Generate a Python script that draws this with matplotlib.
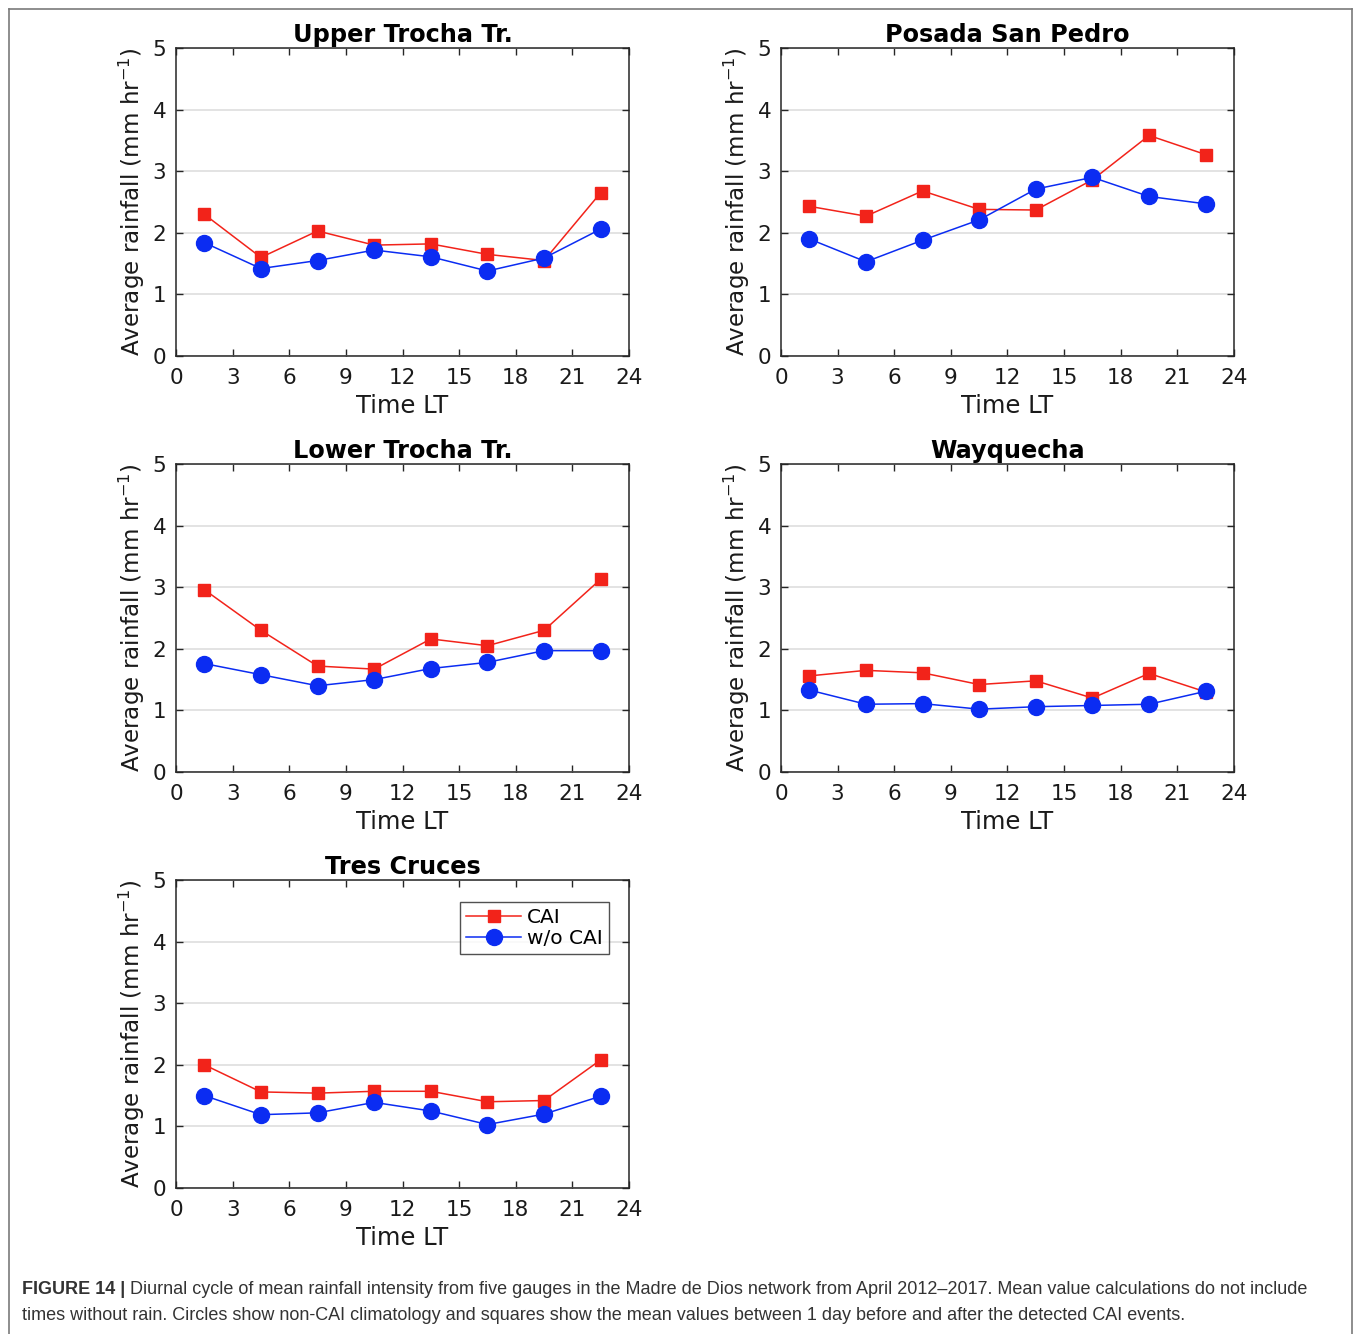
import numpy as np
import matplotlib
matplotlib.use("Agg")
import matplotlib.pyplot as plt
from matplotlib.lines import Line2D

# -----------------------------------------------------------------------------
# Data
# -----------------------------------------------------------------------------
hours = [1.5, 4.5, 7.5, 10.5, 13.5, 16.5, 19.5, 22.5]

stations = ["Upper Trocha Tr.", "Posada San Pedro", "Lower Trocha Tr.",
            "Wayquecha", "Tres Cruces"]

cai_upper = [2.30, 1.60, 2.03, 1.80, 1.82, 1.65, 1.55, 2.65]
nocai_upper = [1.84, 1.42, 1.55, 1.72, 1.61, 1.38, 1.59, 2.06]

cai_posada = [2.43, 2.27, 2.68, 2.38, 2.37, 2.86, 3.58, 3.27]
nocai_posada = [1.90, 1.53, 1.88, 2.21, 2.71, 2.90, 2.59, 2.47]

cai_lower = [2.96, 2.30, 1.72, 1.67, 2.16, 2.05, 2.30, 3.13]
nocai_lower = [1.76, 1.58, 1.40, 1.50, 1.68, 1.78, 1.97, 1.97]

cai_wayq = [1.56, 1.65, 1.61, 1.42, 1.48, 1.20, 1.60, 1.30]
nocai_wayq = [1.33, 1.10, 1.11, 1.02, 1.06, 1.08, 1.10, 1.31]

cai_tres = [2.00, 1.56, 1.54, 1.57, 1.57, 1.40, 1.42, 2.08]
nocai_tres = [1.50, 1.19, 1.22, 1.39, 1.25, 1.03, 1.20, 1.49]

cai_series = [cai_upper, cai_posada, cai_lower, cai_wayq, cai_tres]
nocai_series = [nocai_upper, nocai_posada, nocai_lower, nocai_wayq, nocai_tres]

xticks = [0, 3, 6, 9, 12, 15, 18, 21, 24]
yticks = [0, 1, 2, 3, 4, 5]

RED = "#f2231a"
BLUE = "#0b2cf2"
AXCOL = "#262626"

# -----------------------------------------------------------------------------
# Layout
# -----------------------------------------------------------------------------
W, H = 1358, 1334
fig = plt.figure(figsize=(W / 100, H / 100), dpi=100)

ax_w = 453 / W
ax_h = 308 / H
lefts = [176 / W, 781 / W]
bottoms = [(H - 356) / H, (H - 772) / H, (H - 1188) / H]

positions = [
    (lefts[0], bottoms[0]), (lefts[1], bottoms[0]),
    (lefts[0], bottoms[1]), (lefts[1], bottoms[1]),
    (lefts[0], bottoms[2]),
]

for i, (name, cai, nocai) in enumerate(zip(stations, cai_series, nocai_series)):
    l, b = positions[i]
    ax = fig.add_axes([l, b, ax_w, ax_h])

    ax.plot(hours, cai, "-s", color=RED, lw=1.1, ms=9, mec=RED, mfc=RED,
            label="CAI", zorder=3)
    ax.plot(hours, nocai, "-o", color=BLUE, lw=1.1, ms=11.5, mec=BLUE, mfc=BLUE,
            label="w/o CAI", zorder=4)

    ax.set_xlim(0, 24)
    ax.set_ylim(0, 5)
    ax.set_xticks(xticks)
    ax.set_yticks(yticks)
    ax.yaxis.grid(True, color="#dedede", lw=1.2)
    ax.set_axisbelow(True)

    ax.tick_params(direction="in", length=5, width=1, colors=AXCOL,
                   labelsize=15.5, top=True, right=True, labelcolor="#1a1a1a")
    ax.tick_params(axis="x", pad=9)
    ax.tick_params(axis="y", pad=7)
    for sp in ax.spines.values():
        sp.set_color(AXCOL)
        sp.set_linewidth(1.1)

    ax.set_title(name, fontsize=17.3, fontweight="bold", pad=4)
    ax.set_xlabel("Time LT", fontsize=17.5, labelpad=4, color="#1a1a1a")
    ax.set_ylabel("Average rainfall (mm hr$^{-1}$)", fontsize=16.6,
                  labelpad=4, color="#1a1a1a")

    if i == 4:
        leg = ax.legend(loc="upper right", bbox_to_anchor=(0.955, 0.93),
                        fontsize=14.5, frameon=True, fancybox=False,
                        handlelength=2.7, handletextpad=0.3,
                        borderpad=0.3, labelspacing=0.1, borderaxespad=0)
        leg.get_frame().set_edgecolor(AXCOL)
        leg.get_frame().set_linewidth(1.0)

# -----------------------------------------------------------------------------
# Caption and frame
# -----------------------------------------------------------------------------
frame_col = "#7a7a7a"
x0, x1, y0 = 8.5 / W, 1351.5 / W, 1 - 8.5 / H
fig.add_artist(Line2D([x0, x0], [0, y0], transform=fig.transFigure,
                      color=frame_col, lw=1.2))
fig.add_artist(Line2D([x1, x1], [0, y0], transform=fig.transFigure,
                      color=frame_col, lw=1.2))
fig.add_artist(Line2D([x0, x1], [y0, y0], transform=fig.transFigure,
                      color=frame_col, lw=1.2))

cap_font = ["Liberation Sans", "DejaVu Sans"]
cap_size = 12.95
line1 = ("Diurnal cycle of mean rainfall intensity from five gauges in the Madre "
         "de Dios network from April 2012\u20132017. Mean value calculations do not include")
line2 = ("times without rain. Circles show non-CAI climatology and squares show the "
         "mean values between 1 day before and after the detected CAI events.")

t = fig.text(22 / W, 1 - 1290 / H, "FIGURE 14 | ", fontsize=cap_size,
             fontweight="bold", color="#333333", family=cap_font, va="center")
fig.canvas.draw()
bb = t.get_window_extent()
fig.text(bb.x1 / W, 1 - 1290 / H, line1, fontsize=cap_size, color="#333333",
         family=cap_font, va="center")
fig.text(22 / W, 1 - 1315 / H, line2, fontsize=cap_size, color="#333333",
         family=cap_font, va="center")

fig.savefig("out.png", dpi=100)
